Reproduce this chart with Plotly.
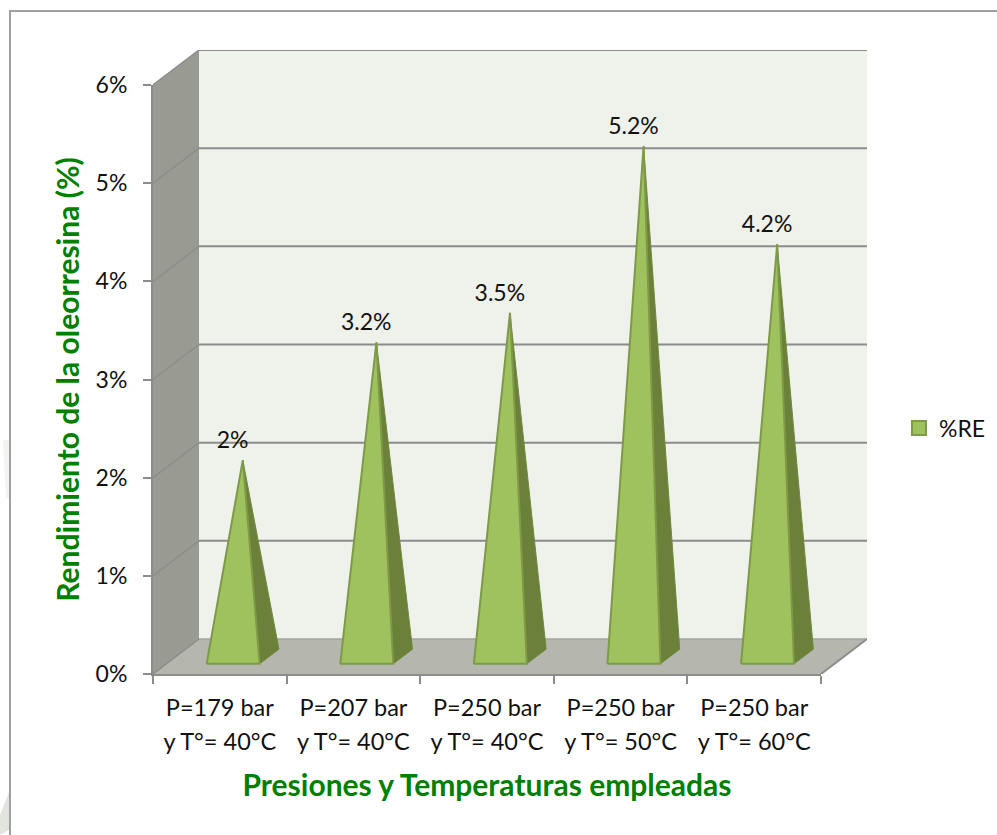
import plotly.graph_objects as go

# Chart data
line1_labels = ["P=179 bar", "P=207 bar", "P=250 bar", "P=250 bar", "P=250 bar"]
line2_labels = ["y T°= 40°C", "y T°= 40°C", "y T°= 40°C", "y T°= 50°C", "y T°= 60°C"]
rendimiento = [2.0, 3.2, 3.5, 5.2, 4.2]
y_ticks = [0, 1, 2, 3, 4, 5, 6]
series_name = "%RE"

# Page layout in pixels; the figure runs slightly past the window so the legend keeps its room
W, H = 997, 835
FIG_W = W + 24
L, R, T, B = 153, 867, 50, 674          # full drawing box including the depth of the 3D frame
FRONT_R, FRONT_T = 821, 85              # front plane of the frame
N = len(rendimiento)
YMAX = y_ticks[-1]
UX = (FRONT_R - L) / N                  # pixels per category
UY = (B - FRONT_T) / YMAX               # pixels per percent
DX = (R - FRONT_R) / UX                 # oblique depth, in axis units
DY = (FRONT_T - T) / UY

GRID = "#8C8C8C"
FONT = "Lato"
GREEN_TITLE = "#008000"


def project(cat, val, depth):
    """Oblique projection of (category, value, depth 0..1) onto the plot axes."""
    return cat + depth * DX, val + depth * DY


def polygon(points):
    xs, ys = zip(*[project(*p) for p in points])
    return list(xs), list(ys)


def joined(polys):
    xs, ys = [], []
    for px, py in polys:
        xs += px + [px[0], None]
        ys += py + [py[0], None]
    return xs, ys


fig = go.Figure()


def add_face(poly, fill, line=None, width=0):
    fig.add_trace(go.Scatter(
        x=poly[0], y=poly[1], mode="lines", fill="toself", fillcolor=fill,
        line=dict(color=line or fill, width=width),
        showlegend=False, hoverinfo="skip"))


# Frame: back wall, side wall and floor
back = polygon([(0, 0, 1), (N, 0, 1), (N, YMAX, 1), (0, YMAX, 1)])
side = polygon([(0, 0, 0), (0, 0, 1), (0, YMAX, 1), (0, YMAX, 0)])
floor = polygon([(0, 0, 0), (N, 0, 0), (N, 0, 1), (0, 0, 1)])
add_face(joined([back]), "#EFF1EB")
add_face(joined([side]), "#999B93")
add_face(joined([floor]), "#B5B7AF")

# Gridlines run along the side wall and across the back wall
for v in y_ticks[1:]:
    gx, gy = polygon([(0, v, 0), (0, v, 1)])
    fig.add_trace(go.Scatter(x=gx, y=gy, mode="lines", line=dict(color=GRID, width=1.5),
                             showlegend=False, hoverinfo="skip"))
    gx, gy = polygon([(0, v, 1), (N, v, 1)])
    fig.add_trace(go.Scatter(x=gx, y=gy, mode="lines", line=dict(color=GRID, width=2),
                             showlegend=False, hoverinfo="skip"))

# Floor edges
for a, b, color, width in [((0, 0, 0), (0, 0, 1), GRID, 1.5),
                           ((0, 0, 1), (N, 0, 1), "#A3A59E", 1.5),
                           ((N, 0, 0), (N, 0, 1), GRID, 2)]:
    gx, gy = polygon([a, b])
    fig.add_trace(go.Scatter(x=gx, y=gy, mode="lines", line=dict(color=color, width=width),
                             showlegend=False, hoverinfo="skip"))

# Pyramids: square base centred in its category cell, apex at the value
HALF_W = 26.5 / UX
HALF_D = 0.21
front_faces, side_faces = [], []
for i, v in enumerate(rendimiento):
    c = i + 0.5
    apex = (c, v, 0.5)
    fl = (c - HALF_W, 0, 0.5 - HALF_D)
    fr = (c + HALF_W, 0, 0.5 - HALF_D)
    br = (c + HALF_W, 0, 0.5 + HALF_D)
    front_faces.append(polygon([fl, fr, apex]))
    side_faces.append(polygon([fr, br, apex]))
add_face(joined(side_faces), "#6B8039", "#71883F", 1)
add_face(joined(front_faces), "#9FC25E", "#7E9A48", 2)

# Value labels above each apex
LABEL_DEPTH = 0.28
lx = [project(i + 0.5, 0, LABEL_DEPTH)[0] for i in range(N)]
ly = [v + 0.5 * DY + 18 / UY for v in rendimiento]
fig.add_trace(go.Scatter(
    x=lx, y=ly, mode="text", text=[f"{v:g}%" for v in rendimiento],
    textposition="middle center", textfont=dict(family=FONT, size=23, color="#111111"),
    showlegend=False, hoverinfo="skip"))

# Legend entry
fig.add_trace(go.Scatter(
    x=[None], y=[None], mode="markers", name=series_name, xaxis="x2", yaxis="y2",
    marker=dict(symbol="square", size=14, color="#9FC25E", line=dict(color="#7E9A48", width=2)),
    hoverinfo="skip"))
# Second row of category labels lives on its own overlaid axis
fig.add_trace(go.Scatter(x=[None], y=[None], xaxis="x3", yaxis="y2",
                         showlegend=False, hoverinfo="skip"))

pw, ph = R - L, B - T
tickfont = dict(family=FONT, size=23, color="#111111")
catfont = dict(family=FONT, size=23.5, color="#111111")
centres = [i + 0.5 for i in range(N)]
px_x = lambda p: (p - L) / pw
px_y = lambda p: (B - p) / ph

fig.update_layout(
    width=FIG_W, height=H, autosize=False,
    margin=dict(l=L, r=FIG_W - R, t=T, b=H - B, pad=0),
    paper_bgcolor="white", plot_bgcolor="rgba(0,0,0,0)",
    hovermode=False,
    # Axes carrying the projected marks
    xaxis=dict(range=[0, N + DX], visible=False, fixedrange=True),
    yaxis=dict(range=[0, YMAX + DY], visible=False, fixedrange=True),
    # Axes of the front plane: ticks, labels, titles
    xaxis2=dict(
        domain=[0, (FRONT_R - L) / pw], range=[0, N], anchor="y2",
        showgrid=False, zeroline=False, showline=True, linecolor=GRID, linewidth=2,
        tickmode="array", tickvals=centres, ticktext=line1_labels, ticks="",
        tickangle=0, tickfont=catfont, ticklabelstandoff=12,
        minor=dict(tickmode="array", tickvals=list(range(N + 1)), ticks="outside",
                   ticklen=8, tickwidth=2, tickcolor=GRID, showgrid=False),
        title=dict(text="<b>Presiones y Temperaturas empleadas</b>",
                   font=dict(family=FONT, size=30, color=GREEN_TITLE), standoff=55),
        fixedrange=True),
    xaxis3=dict(
        domain=[0, (FRONT_R - L) / pw], range=[0, N], anchor="y2", overlaying="x2",
        showgrid=False, zeroline=False, showline=False,
        tickmode="array", tickvals=centres, ticktext=line2_labels, ticks="",
        tickangle=0, tickfont=catfont, ticklabelstandoff=51, fixedrange=True),
    yaxis2=dict(
        domain=[0, (B - FRONT_T) / ph], range=[0, YMAX], anchor="x2",
        showgrid=False, zeroline=False, showline=True, linecolor=GRID, linewidth=2,
        tickmode="array", tickvals=y_ticks, ticktext=[f"{t}%" for t in y_ticks],
        ticks="outside", ticklen=8, tickwidth=2, tickcolor=GRID, tickfont=tickfont,
        ticklabelstandoff=11,
        title=dict(text="<b>Rendimiento de la oleorresina (%)</b>",
                   font=dict(family=FONT, size=30, color=GREEN_TITLE), standoff=7),
        fixedrange=True),
    showlegend=True,
    legend=dict(x=px_x(899), y=px_y(428), xanchor="left", yanchor="middle",
                font=dict(family=FONT, size=23, color="#111111"),
                bgcolor="rgba(0,0,0,0)", itemwidth=30),
    shapes=[
        # Outer chart border, open towards the right and bottom page edges
        dict(type="path", xref="paper", yref="paper",
             path=f"M {px_x(10)} {px_y(H + 5)} L {px_x(10)} {px_y(11)} L {px_x(W + 5)} {px_y(11)}",
             line=dict(color="#A0A0A0", width=2)),
        # Faint smudges in the left margin
        dict(type="path", xref="paper", yref="paper", layer="below", line_width=0,
             fillcolor="#F3F3F1",
             path=f"M {px_x(3)} {px_y(440)} L {px_x(9)} {px_y(440)} L {px_x(9)} {px_y(498)} "
                  f"L {px_x(6)} {px_y(498)} Z"),
        dict(type="path", xref="paper", yref="paper", layer="below", line_width=0,
             fillcolor="#E2E5DE",
             path=f"M {px_x(0)} {px_y(815)} L {px_x(9)} {px_y(792)} L {px_x(9)} {px_y(830)} "
                  f"L {px_x(0)} {px_y(835)} Z"),
    ],
)

fig.write_html("out.html", post_script="document.documentElement.style.overflow='hidden';")
